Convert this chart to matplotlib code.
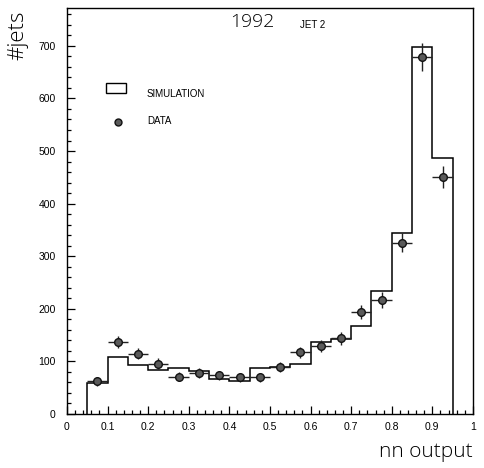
import numpy as np
import matplotlib
matplotlib.use('Agg')
import matplotlib.pyplot as plt
from matplotlib.patches import Rectangle
from matplotlib.ticker import MultipleLocator

# bin edges of the nn output histogram
edges = [0.05, 0.10, 0.15, 0.20, 0.25, 0.30, 0.35, 0.40, 0.45, 0.50,
         0.55, 0.60, 0.65, 0.70, 0.75, 0.80, 0.85, 0.90, 0.95]
centers = [0.075, 0.125, 0.175, 0.225, 0.275, 0.325, 0.375, 0.425, 0.475,
           0.525, 0.575, 0.625, 0.675, 0.725, 0.775, 0.825, 0.875, 0.925]

# simulated jets per bin
simulation = [59, 108, 93, 84, 87, 82, 66, 63, 87,
              90, 96, 136, 142, 167, 233, 345, 697, 486]

# measured jets per bin
data = [62, 137, 115, 96, 71, 78, 74, 70, 70,
        90, 117, 130, 144, 194, 217, 326, 679, 450]

plt.rcParams['font.family'] = ['Liberation Sans', 'DejaVu Sans']
thin = ['Open Sans', 'DejaVu Sans']

fig = plt.figure(figsize=(4.84, 4.68), dpi=100)
ax = fig.add_axes([0.1384, 0.1154, 0.8388, 0.8675])

ax.stairs(simulation, edges, baseline=0, color='black', linewidth=1.1)
ax.errorbar(centers, data, xerr=0.025, yerr=np.sqrt(data), fmt='o',
            color='black', ecolor='#222222', elinewidth=1.0, capsize=0,
            markersize=5.5, markerfacecolor='#5a5a5a', markeredgecolor='#111111',
            markeredgewidth=1.0)

ax.set_xlim(0, 1)
ax.set_ylim(0, 772)
ax.xaxis.set_major_locator(MultipleLocator(0.1))
ax.xaxis.set_minor_locator(MultipleLocator(0.02))
ax.yaxis.set_major_locator(MultipleLocator(100))
ax.yaxis.set_minor_locator(MultipleLocator(20))
ax.xaxis.set_major_formatter(plt.FuncFormatter(lambda v, p: '%g' % round(v, 2)))
ax.tick_params(which='both', direction='in', top=False, right=False,
               labelsize=7.5, width=0.9)
ax.tick_params(which='major', length=6)
ax.tick_params(which='minor', length=3)
ax.tick_params(axis='x', pad=6)
ax.tick_params(axis='y', pad=8)
for s in ax.spines.values():
    s.set_linewidth(1.0)

# labels and title
ax.text(0.456, 0.966, '1992', transform=ax.transAxes, fontsize=14,
        ha='center', va='center', family=thin, fontweight='light')
ax.text(0.606, 0.958, 'JET 2', transform=ax.transAxes, fontsize=7,
        ha='center', va='center')
fig.text(0.037, 0.925, '#jets', rotation=90, fontsize=16, ha='center',
         va='center', family=thin, fontweight='light')
fig.text(0.977, 0.034, 'nn output', fontsize=15, ha='right', va='center',
         family=thin, fontweight='light')

# legend
ax.add_patch(Rectangle((0.096, 0.791), 0.049, 0.025, transform=ax.transAxes,
                       fill=False, edgecolor='black', linewidth=1.0))
ax.text(0.197, 0.788, 'SIMULATION', transform=ax.transAxes, fontsize=7,
        va='center')
ax.plot([0.126], [0.72], 'o', transform=ax.transAxes, markersize=5,
        markerfacecolor='#5a5a5a', markeredgecolor='#111111')
ax.text(0.197, 0.722, 'DATA', transform=ax.transAxes, fontsize=7,
        va='center')

fig.savefig('out.png', dpi=100)
